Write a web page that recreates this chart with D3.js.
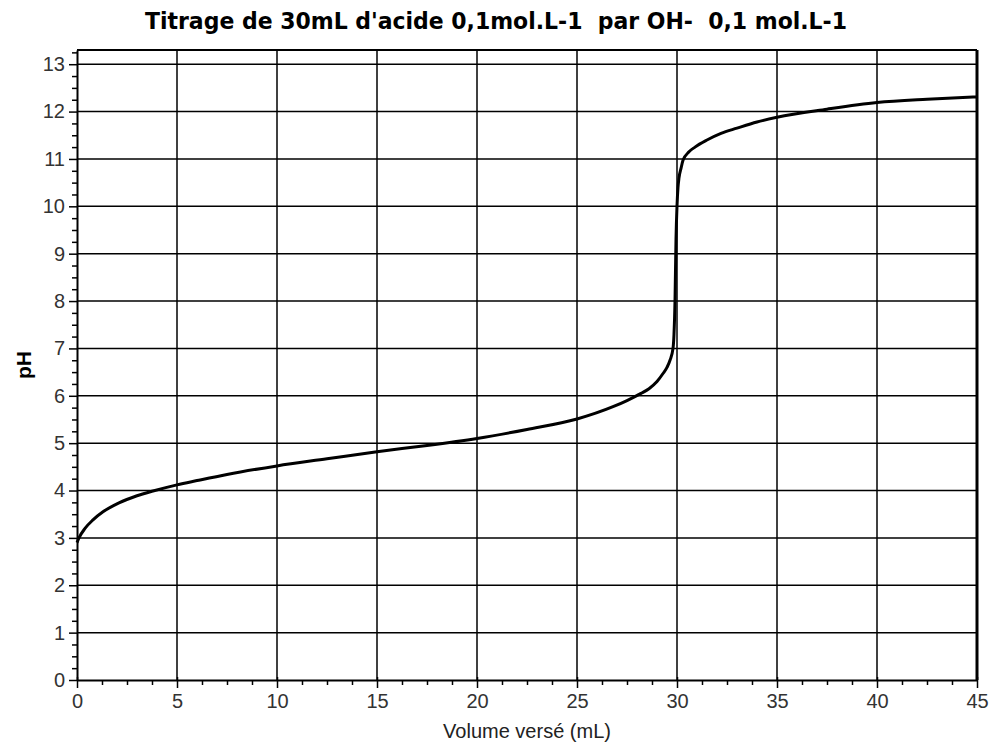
<!DOCTYPE html>
<html lang="fr">
<head>
  <meta charset="UTF-8">
  <title>Titrage acide faible par OH-</title>
  <script src="https://d3js.org/d3.v7.min.js"></script>
  <style>
    body { margin: 0; background: #fff; }
    svg { display: block; }
    .tick text { font-family: "Liberation Sans", Arial, sans-serif; font-size: 20px; fill: #333; }
  </style>
</head>
<body>
  <div id="chart"></div>

  <script>
    // Titration data
    const volumes = [0, 0.1, 0.4, 0.8, 1.3, 2.1, 3.0, 3.8, 5.0, 6.0, 7.5, 10, 12.5, 15, 17.5, 20, 22.5, 25,
      26.8, 27.5, 28.2, 28.6, 29.0, 29.3, 29.5, 29.65, 29.8, 29.85, 29.9, 29.95, 30.0, 30.05, 30.1, 30.2,
      30.3, 30.6, 30.9, 31.5, 32.2, 33, 34, 35, 37.5, 40, 42.5, 45];
    const phValues = [2.9, 3.0, 3.2, 3.38, 3.55, 3.74, 3.89, 3.99, 4.12, 4.21, 4.34, 4.52, 4.67, 4.82, 4.95, 5.1, 5.29, 5.51,
      5.77, 5.9, 6.05, 6.15, 6.3, 6.47, 6.6, 6.75, 7.0, 7.3, 8.0, 9.3, 10.0, 10.4, 10.6, 10.8,
      10.97, 11.15, 11.25, 11.4, 11.54, 11.65, 11.78, 11.88, 12.05, 12.19, 12.26, 12.31];

    const xTicks = [0, 5, 10, 15, 20, 25, 30, 35, 40, 45];
    const yTicks = [0, 1, 2, 3, 4, 5, 6, 7, 8, 9, 10, 11, 12, 13];

    const titleText = "Titrage de 30mL d'acide 0,1mol.L-1  par OH-  0,1 mol.L-1";
    const xLabel = "Volume versé (mL)";
    const yLabel = "pH";

    const width = 990, height = 745;
    const margin = { top: 50, right: 13, bottom: 65, left: 77 };
    const innerW = width - margin.left - margin.right;
    const innerH = height - margin.top - margin.bottom;

    const x = d3.scaleLinear().domain([0, 45]).range([0, innerW]);
    const y = d3.scaleLinear().domain([0, 13.3]).range([innerH, 0]);

    const svg = d3.select("#chart").append("svg")
      .attr("width", width)
      .attr("height", height);

    const g = svg.append("g").attr("transform", `translate(${margin.left},${margin.top})`);

    // grid
    g.append("g")
      .selectAll("line.vgrid")
      .data(xTicks.slice(1))
      .enter().append("line")
      .attr("x1", d => x(d)).attr("x2", d => x(d))
      .attr("y1", 0).attr("y2", innerH)
      .attr("stroke", "#000").attr("stroke-width", 1.5);

    g.append("g")
      .selectAll("line.hgrid")
      .data(yTicks.slice(1))
      .enter().append("line")
      .attr("x1", 0).attr("x2", innerW)
      .attr("y1", d => y(d)).attr("y2", d => y(d))
      .attr("stroke", "#000").attr("stroke-width", 1.5);

    // top border + thick right border
    g.append("line").attr("x1", 0).attr("x2", innerW).attr("y1", 0).attr("y2", 0)
      .attr("stroke", "#000").attr("stroke-width", 2);
    g.append("line").attr("x1", innerW).attr("x2", innerW).attr("y1", 0).attr("y2", innerH)
      .attr("stroke", "#000").attr("stroke-width", 3);

    // minor ticks
    const xMinor = d3.range(0, 45.01, 1.25).filter(v => !xTicks.includes(v));
    const yMinor = d3.range(0, 13.3, 0.25).filter(v => !yTicks.includes(v));

    g.append("g")
      .attr("transform", `translate(0,${innerH})`)
      .call(d3.axisBottom(x).tickValues(xMinor).tickSize(5).tickFormat(""))
      .call(a => a.select(".domain").remove())
      .selectAll("line").attr("stroke", "#000").attr("stroke-width", 1.5);

    g.append("g")
      .call(d3.axisLeft(y).tickValues(yMinor).tickSize(5).tickFormat(""))
      .call(a => a.select(".domain").remove())
      .selectAll("line").attr("stroke", "#000").attr("stroke-width", 1.5);

    // main axes
    const xAxis = g.append("g")
      .attr("transform", `translate(0,${innerH})`)
      .call(d3.axisBottom(x).tickValues(xTicks).tickSize(8).tickSizeOuter(0).tickPadding(6));
    xAxis.select(".domain").attr("stroke", "#000").attr("stroke-width", 2);
    xAxis.selectAll(".tick line").attr("stroke", "#000").attr("stroke-width", 1.5).attr("y1", -3);

    const yAxis = g.append("g")
      .call(d3.axisLeft(y).tickValues(yTicks).tickSize(8).tickSizeOuter(0).tickPadding(4));
    yAxis.select(".domain").attr("stroke", "#000").attr("stroke-width", 2);
    yAxis.selectAll(".tick line").attr("stroke", "#000").attr("stroke-width", 1.5);

    // curve
    const points = volumes.map((v, i) => [v, phValues[i]]);
    g.append("path")
      .datum(points)
      .attr("fill", "none")
      .attr("stroke", "#000")
      .attr("stroke-width", 3)
      .attr("stroke-linejoin", "round")
      .attr("d", d3.line().x(d => x(d[0])).y(d => y(d[1])).curve(d3.curveMonotoneX));

    // title
    svg.append("text")
      .attr("x", 496)
      .attr("y", 29)
      .attr("text-anchor", "middle")
      .attr("font-family", "'Liberation Sans Narrow', 'Arial Narrow', 'DejaVu Sans Condensed', sans-serif")
      .attr("font-weight", "bold")
      .attr("font-size", 23)
      .attr("textLength", 702)
      .attr("lengthAdjust", "spacingAndGlyphs")
      .style("white-space", "pre")
      .text(titleText);

    // axis labels
    svg.append("text")
      .attr("x", margin.left + innerW / 2)
      .attr("y", 738)
      .attr("text-anchor", "middle")
      .attr("font-family", "'Liberation Sans', Arial, sans-serif")
      .attr("font-size", 20)
      .attr("fill", "#222")
      .text(xLabel);

    svg.append("text")
      .attr("transform", `translate(31,${margin.top + innerH / 2}) rotate(-90)`)
      .attr("text-anchor", "middle")
      .attr("font-family", "'Liberation Sans', Arial, sans-serif")
      .attr("font-weight", "bold")
      .attr("font-size", 21)
      .text(yLabel);
  </script>
</body>
</html>
